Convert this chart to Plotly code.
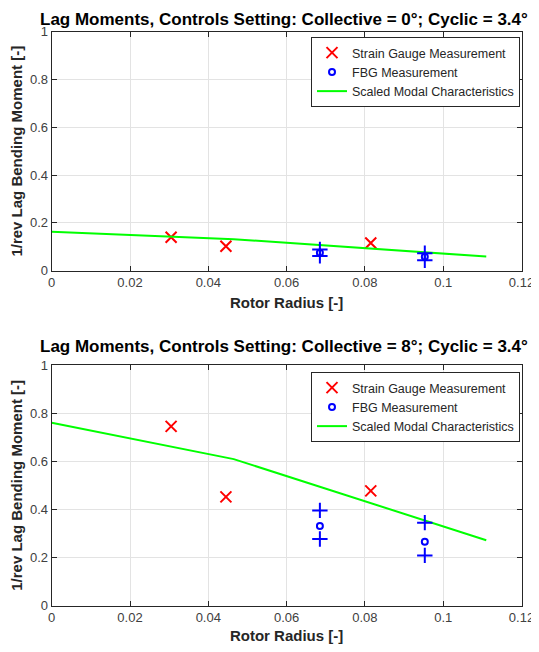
import plotly.graph_objects as go

# page body has an 8px margin; figure offset accordingly
OFF = 8
W, H = 539 - OFF, 652 - 2 * OFF

# ---- data ----
titles = ["Lag Moments, Controls Setting: Collective = 0°; Cyclic = 3.4°",
          "Lag Moments, Controls Setting: Collective = 8°; Cyclic = 3.4°"]

sg_r = [0.0305, 0.0445, 0.0815]
sg_top = [0.140, 0.102, 0.116]
sg_bot = [0.745, 0.452, 0.477]

fbg_r = [0.0685, 0.0953]
fbg_top = [0.075, 0.058]
fbg_top_hi = [0.089, 0.073]
fbg_top_lo = [0.062, 0.044]
fbg_bot = [0.331, 0.266]
fbg_bot_hi = [0.396, 0.345]
fbg_bot_lo = [0.277, 0.209]

modal_r = [0.0, 0.0465, 0.111]
modal_top = [0.163, 0.132, 0.059]
modal_bot = [0.760, 0.609, 0.272]

x_ticks = [0, 0.02, 0.04, 0.06, 0.08, 0.1, 0.12]
y_ticks = [0, 0.2, 0.4, 0.6, 0.8, 1]

FONT = "Liberation Sans, Arial, sans-serif"
DARK = "#262626"


def px(x):
    return (x - OFF) / W


def py(y):
    return 1 - (y - OFF) / H


fig = go.Figure()

panels = [
    dict(xa="x", ya="y", leg="legend", sg=sg_top, fbg=fbg_top, hi=fbg_top_hi, lo=fbg_top_lo, modal=modal_top),
    dict(xa="x2", ya="y2", leg="legend2", sg=sg_bot, fbg=fbg_bot, hi=fbg_bot_hi, lo=fbg_bot_lo, modal=modal_bot),
]

for p in panels:
    fig.add_trace(go.Scatter(x=sg_r, y=p["sg"], mode="markers", name="Strain Gauge Measurement",
                             xaxis=p["xa"], yaxis=p["ya"], legend=p["leg"],
                             marker=dict(symbol="x-thin", size=11, color="red",
                                         line=dict(color="red", width=2))))
    fig.add_trace(go.Scatter(x=fbg_r, y=p["fbg"], mode="markers", name="FBG Measurement",
                             xaxis=p["xa"], yaxis=p["ya"], legend=p["leg"],
                             marker=dict(symbol="circle-open", size=6, color="blue",
                                         line=dict(color="blue", width=2))))
    fig.add_trace(go.Scatter(x=modal_r, y=p["modal"], mode="lines", name="Scaled Modal Characteristics",
                             xaxis=p["xa"], yaxis=p["ya"], legend=p["leg"],
                             line=dict(color="#00ff00", width=2)))
    fig.add_trace(go.Scatter(x=fbg_r + fbg_r, y=p["hi"] + p["lo"], mode="markers", showlegend=False,
                             xaxis=p["xa"], yaxis=p["ya"],
                             marker=dict(symbol="cross-thin", size=11, color="blue",
                                         line=dict(color="blue", width=2))))

x0, x1 = px(51.7), px(521.5)
top_dom = [py(270.7), py(31.7)]
bot_dom = [py(605.7), py(365.0)]

axcommon = dict(showline=True, linecolor=DARK, linewidth=1, mirror="ticks", ticks="inside",
                ticklen=5, tickcolor=DARK, showgrid=True, gridcolor="#e3e3e3", gridwidth=1,
                zeroline=False, automargin=False, ticklabeloverflow="allow",
                tickfont=dict(family=FONT, size=13, color="#404040"))

lblfont = dict(family=FONT, size=15, color=DARK)
legfont = dict(family=FONT, size=12.5, color=DARK)

fig.update_layout(
    width=W, height=H, margin=dict(l=0, r=0, t=0, b=0),
    paper_bgcolor="white", plot_bgcolor="white", showlegend=True,
    xaxis=dict(domain=[x0, x1], anchor="y", range=[0, 0.12], tickvals=x_ticks,
               title=dict(text="<b>Rotor Radius [-]</b>", font=lblfont, standoff=8),
               **axcommon),
    yaxis=dict(domain=top_dom, anchor="x", range=[0, 1], tickvals=y_ticks,
               title=dict(text="<b>1/rev Lag Bending Moment [-]</b>", font=lblfont, standoff=5),
               **axcommon),
    xaxis2=dict(domain=[x0, x1], anchor="y2", range=[0, 0.12], tickvals=x_ticks,
                title=dict(text="<b>Rotor Radius [-]</b>", font=lblfont, standoff=8),
                **axcommon),
    yaxis2=dict(domain=bot_dom, anchor="x2", range=[0, 1], tickvals=y_ticks,
                title=dict(text="<b>1/rev Lag Bending Moment [-]</b>", font=lblfont, standoff=5),
                **axcommon),
    legend=dict(x=px(520), xanchor="right", y=py(37), yanchor="top", bgcolor="white",
                bordercolor=DARK, borderwidth=1, font=legfont,
                tracegroupgap=0, itemwidth=30),
    legend2=dict(x=px(520), xanchor="right", y=py(372), yanchor="top", bgcolor="white",
                 bordercolor=DARK, borderwidth=1, font=legfont,
                 tracegroupgap=0, itemwidth=30),
    annotations=[
        dict(text="<b>" + titles[0] + "</b>", x=px(283.5), y=py(8.5), xref="paper", yref="paper",
             showarrow=False, xanchor="center", yanchor="top", font=dict(family=FONT, size=17, color="black")),
        dict(text="<b>" + titles[1] + "</b>", x=px(283.5), y=py(346), xref="paper", yref="paper",
             showarrow=False, xanchor="center", yanchor="middle", font=dict(family=FONT, size=17, color="black")),
    ],
)

fig.write_html("out.html")
